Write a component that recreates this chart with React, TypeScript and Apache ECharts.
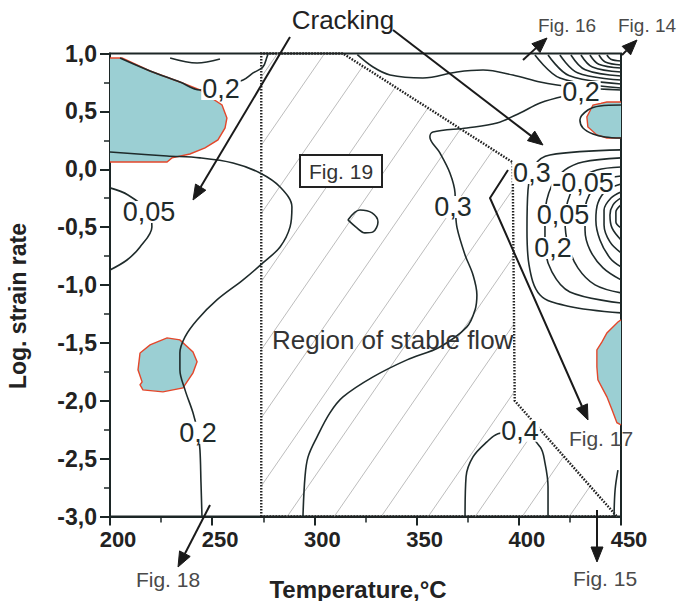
import React, { useEffect, useRef } from "react";
import * as echarts from "echarts";

// ---------- axes ----------
const xTickValues = [200, 250, 300, 350, 400, 450];
const yTickValues = [-3, -2.5, -2, -1.5, -1, -0.5, 0, 0.5, 1];

// ---------- region of stable flow (hatched, dotted border) ----------
const stableRegion = [
  [274, -3], [274, 1], [314, 1], [397, 0.06], [398, -2.0], [448, -3.0],
];

// ---------- cyan (instability) regions ----------
const cyanTopLeft = [
  [200, 0.961], [205.9, 0.961], [219.6, 0.849], [234.2, 0.754], [244.0, 0.685], [248.9, 0.624],
  [254.8, 0.555], [257.2, 0.443], [256.3, 0.357], [252.8, 0.253], [246.5, 0.184], [239.1, 0.132],
  [230.3, 0.098], [227.9, 0.063], [200, 0.063],
];
const cyanLeftBlob = [
  [214.7, -1.587], [219.6, -1.517], [227.9, -1.457], [234.2, -1.474], [240.6, -1.578], [242.6, -1.664],
  [240.6, -1.759], [235.7, -1.889], [225.9, -1.923], [216.1, -1.906], [214.7, -1.863], [215.7, -1.837],
  [213.7, -1.733], [214.7, -1.587],
];
const cyanRightTop = [
  [450, 0.27], [443.1, 0.27], [438.2, 0.296], [433.8, 0.365], [433.3, 0.452], [436.3, 0.555],
  [443.1, 0.581], [450, 0.581],
];
const cyanRightBottom = [
  [450, -1.302], [448.5, -1.319], [443.1, -1.414], [440.7, -1.492], [438.2, -1.561], [438.2, -1.708],
  [438.7, -1.82], [443.1, -1.966], [445.6, -2.078], [448.0, -2.19], [450, -2.208],
];
const cyanRegions = [cyanTopLeft, cyanLeftBlob, cyanRightTop, cyanRightBottom];

// ---------- contour lines ----------
const contourTopLeft = [
  [204.9, 0.961], [219.6, 0.849], [234.2, 0.754], [244.0, 0.685], [254.3, 0.72],
  [265.1, 0.771], [270.0, 0.832], [274.8, 0.883], [276.8, 0.97], [277.3, 0.996],
];
const contourTopArc = [[229.4, 0.961], [242.6, 0.918], [253.8, 0.953]];
const contourLeft02 = [
  [200, 0.149], [227.9, 0.115], [244.0, 0.098], [260.2, 0.054], [273.4, -0.032], [283.2, -0.153],
  [289.0, -0.326], [288.1, -0.498], [283.2, -0.671], [274.8, -0.809], [265.1, -0.956], [252.3, -1.129],
  [242.6, -1.302], [236.7, -1.448], [234.2, -1.587], [234.2, -1.733], [236.7, -1.906], [240.6, -2.104],
  [243.0, -2.277], [244.0, -2.423], [244.5, -2.7], [245.0, -3.0],
];
const contourLeft005 = [
  [200, -0.161], [208.8, -0.222], [219.1, -0.369], [220.5, -0.498], [214.7, -0.671], [208.3, -0.784], [200, -0.87],
];
const contourMid03 = [
  [422.6, 0.633], [410.4, 0.573], [400.6, 0.486], [389.3, 0.4], [374.6, 0.357], [358.0, 0.322],
  [356.5, 0.279], [361.4, 0.141], [366.3, -0.032], [368.8, -0.205], [369.0, -0.35], [369.8, -0.507],
  [373.7, -0.74], [377.6, -0.913], [379.5, -1.086], [378.6, -1.215], [374.6, -1.362], [361.4, -1.535],
  [345.3, -1.647], [328.7, -1.794], [314.0, -1.967], [307.6, -2.105], [301.3, -2.312], [296.9, -2.485],
  [295.4, -2.658], [294.4, -3.0],
];
const contourTop02 = [
  [321.0, 0.99], [328.7, 0.883], [337.0, 0.814], [353.1, 0.788], [369.8, 0.84], [382.5, 0.857],
  [397.1, 0.814], [410.4, 0.754], [418.7, 0.728], [431.4, 0.7], [439.7, 0.693], [450, 0.685],
];
const contourIsland = [
  [316.4, -0.438], [322.3, -0.352], [328.2, -0.377], [331.1, -0.455], [328.7, -0.541], [324.7, -0.55],
  [320.8, -0.507], [316.4, -0.438],
];
const contourBottom04 = [
  [373.7, -3.0], [374.2, -2.657], [377.6, -2.485], [384.4, -2.355], [389.8, -2.286], [400.6, -2.26],
  [410.4, -2.398], [412.8, -2.537], [414.3, -2.744], [414.3, -3.0],
];
const contourBottomRight = [[448.5, -2.6], [447.1, -2.773], [446.6, -3.0]];
const contourAroundCyan = [
  [450, 0.555], [439.7, 0.547], [433.8, 0.512], [429.9, 0.426], [431.4, 0.357], [436.3, 0.305],
  [442.2, 0.279], [450, 0.27],
];
// nested curves on the right edge
const nestedC1 = [[450, 0.167], [415.2, 0.123], [407.9, 0.037], [404.5, -0.179], [404.0, -0.525], [405.0, -0.826], [410.4, -1.086], [423.6, -1.181], [450, -1.241]];
const nestedC2 = [[450, 0.098], [431.4, 0.063], [422.6, -0.006], [416.2, -0.136], [412.8, -0.395], [412.8, -0.654], [416.2, -0.887], [425.0, -1.06], [450, -1.155]];
const nestedC3 = [[450, 0.02], [438.2, -0.006], [430.9, -0.075], [425.0, -0.222], [422.6, -0.438], [424.1, -0.654], [428.9, -0.852], [437.3, -0.999], [450, -1.068]];
const nestedC4 = [[450, -0.058], [441.2, -0.092], [435.8, -0.179], [432.4, -0.352], [432.4, -0.525], [434.8, -0.697], [441.2, -0.852], [450, -0.956]];
const nestedC5 = [[450, -0.127], [443.1, -0.179], [438.7, -0.291], [437.7, -0.438], [439.7, -0.611], [444.6, -0.766], [450, -0.844]];
const nestedC6 = [[450, -0.196], [445.1, -0.248], [441.7, -0.352], [441.7, -0.481], [444.6, -0.628], [450, -0.723]];
const nestedC7 = [[450, -0.248], [446.1, -0.308], [444.6, -0.395], [445.6, -0.507], [450, -0.611]];
const nestedC8 = [[450, -0.308], [447.5, -0.369], [447.5, -0.455], [450, -0.507]];
// fan of curves in the top-right corner
const fanA1 = [[407.9, 0.987], [420.1, 0.788], [450, 0.702]];
const fanA2 = [[414.3, 0.987], [424.5, 0.81], [450, 0.737]];
const fanA3 = [[420.1, 0.987], [428.7, 0.834], [450, 0.771]];
const fanA4 = [[425.5, 0.987], [432.5, 0.859], [450, 0.806]];
const fanA5 = [[430.4, 0.987], [436.0, 0.883], [450, 0.84]];
const fanA6 = [[434.8, 0.987], [439.1, 0.908], [450, 0.875]];
const fanA7 = [[439.2, 0.987], [442.3, 0.927], [450, 0.901]];
const fanA8 = [[443.1, 0.987], [445.0, 0.951], [450, 0.935]];

const contourLines = [
  contourTopLeft, contourTopArc, contourLeft02, contourLeft005, contourMid03, contourTop02,
  contourIsland, contourBottom04, contourBottomRight, contourAroundCyan,
  nestedC1, nestedC2, nestedC3, nestedC4, nestedC5, nestedC6, nestedC7, nestedC8,
  fanA1, fanA2, fanA3, fanA4, fanA5, fanA6, fanA7, fanA8,
];

// ---------- contour labels ----------
const contourLabelText = ["0,2", "0,05", "0,2", "0,3", "0,2", "0,3", "-0,05", "0,05", "0,2", "0,4"];
const contourLabelPos = [
  [254.3, 0.693], [219.1, -0.369], [243.0, -2.277], [367.8, -0.326], [430.4, 0.668],
  [406.4, -0.032], [431.4, -0.118], [421.6, -0.395], [416.7, -0.68], [400.6, -2.26],
];

const FONT = '"Liberation Sans", Arial, sans-serif';
const AX = "#1c2626";
const LINE = "#1f2b2b";
const CYAN = "#9bcfd3";
const RED = "#e4472b";
const GREY_TXT = "#4a4a4a";

function arrow(pts: number[][], color = "#1a1a1a") {
  const n = pts.length;
  const [x2, y2] = pts[n - 1];
  const [x1, y1] = pts[n - 2];
  const len = Math.hypot(x2 - x1, y2 - y1);
  const ux = (x2 - x1) / len, uy = (y2 - y1) / len;
  const hl = 15, hw = 6;
  const bx = x2 - ux * hl, by = y2 - uy * hl;
  const linePts = pts.slice(0, n - 1).concat([[bx, by]]);
  return [
    { type: "polyline", z: 100, shape: { points: linePts }, style: { stroke: color, lineWidth: 2, fill: null } },
    {
      type: "polygon", z: 100,
      shape: { points: [[x2, y2], [bx - uy * hw, by + ux * hw], [bx + uy * hw, by - ux * hw]] },
      style: { fill: color, stroke: color, lineWidth: 1 },
    },
  ];
}

function txt(text: string, x: number, y: number, size: number, fill: string, opts: any = {}) {
  const align = opts.align || "center";
  return {
    type: "text", z: 101, x, y, rotation: opts.rotation || 0,
    style: {
      text, fill, font: `${opts.bold ? "bold " : ""}${size}px ${FONT}`,
      align, verticalAlign: "middle", textAlign: align, textVerticalAlign: "middle",
    },
  };
}

export default function App() {
  const ref = useRef<HTMLDivElement>(null);
  useEffect(() => {
    if (!ref.current) return;
    const chart = echarts.init(ref.current, null, { renderer: "svg" });

    const hatchSeries = {
      type: "custom",
      coordinateSystem: "cartesian2d",
      silent: true,
      z: 1,
      data: [stableRegion[0]],
      renderItem: (_p: any, api: any) => {
        const pts = stableRegion.map((p) => api.coord(p));
        const k = 1.45;
        const step = 47 * k;
        let bmin = Infinity, bmax = -Infinity;
        pts.forEach((p: number[]) => {
          const b = p[1] + k * p[0];
          bmin = Math.min(bmin, b);
          bmax = Math.max(bmax, b);
        });
        const anchor = pts[0][1] + k * (pts[0][0] + 73);
        const children: any[] = [];
        for (let b = anchor - step * Math.ceil((anchor - bmin) / step); b <= bmax; b += step) {
          const xs: number[][] = [];
          for (let i = 0; i < pts.length; i++) {
            const p1 = pts[i], p2 = pts[(i + 1) % pts.length];
            const f1 = p1[1] + k * p1[0] - b, f2 = p2[1] + k * p2[0] - b;
            if ((f1 < 0) !== (f2 < 0)) {
              const t = f1 / (f1 - f2);
              xs.push([p1[0] + t * (p2[0] - p1[0]), p1[1] + t * (p2[1] - p1[1])]);
            }
          }
          xs.sort((a, c) => a[0] - c[0]);
          for (let j = 0; j + 1 < xs.length; j += 2) {
            children.push({
              type: "line",
              shape: { x1: xs[j][0], y1: xs[j][1], x2: xs[j + 1][0], y2: xs[j + 1][1] },
              style: { stroke: "#bdbdbd", lineWidth: 1 },
            });
          }
        }
        children.push({
          type: "polygon",
          shape: { points: pts },
          style: { fill: null, stroke: "#222", lineWidth: 2.4, lineDash: [1.6, 1.4] },
        });
        return { type: "group", children };
      },
    };

    const cyanSeries = {
      type: "custom",
      coordinateSystem: "cartesian2d",
      silent: true,
      z: 2,
      data: cyanRegions.map((r, i) => [r[0][0], r[0][1], i]),
      renderItem: (_p: any, api: any) => {
        const idx = api.value(2);
        const region = cyanRegions[idx];
        const pts = region.map((p) => api.coord(p));
        return {
          type: "group",
          children: [
            { type: "polygon", shape: { points: pts }, style: { fill: CYAN, stroke: null } },
            { type: "polyline", shape: { points: pts }, style: { stroke: RED, lineWidth: 1.4, fill: null } },
          ],
        };
      },
    };

    const lineSeries = contourLines.map((pts) => ({
      type: "line",
      data: pts,
      showSymbol: false,
      symbol: "none",
      smooth: 0.35,
      silent: true,
      z: 3,
      lineStyle: { color: LINE, width: 1.6 },
    }));

    const labelSeries = {
      type: "custom",
      coordinateSystem: "cartesian2d",
      silent: true,
      z: 5,
      data: contourLabelPos.map((p, i) => [p[0], p[1], i]),
      renderItem: (params: any, api: any) => {
        const [x, y] = api.coord([api.value(0), api.value(1)]);
        return {
          type: "text",
          x, y,
          style: {
            text: contourLabelText[params.dataIndex],
            font: `27px ${FONT}`,
            fill: LINE,
            align: "center", verticalAlign: "middle",
            textAlign: "center", textVerticalAlign: "middle",
            backgroundColor: "#ffffff",
            lineHeight: 22,
            padding: [0, 1],
          },
        };
      },
    };

    const graphics: any[] = [
      ...arrow([[290, 37], [193, 200]]),
      ...arrow([[393, 30], [543, 145]]),
      ...arrow([[523, 60], [547, 38]]),
      ...arrow([[622, 55], [637, 40]]),
      ...arrow([[508, 170], [490, 198], [588, 420]]),
      ...arrow([[597, 510], [597, 562]]),
      ...arrow([[210, 505], [178, 567]]),
      txt("Cracking", 343, 20, 26, "#222"),
      txt("Fig. 16", 567, 25, 19, GREY_TXT),
      txt("Fig. 14", 618, 25, 19, GREY_TXT, { align: "left" }),
      txt("Fig. 17", 601, 438, 21, GREY_TXT),
      txt("Fig. 15", 605, 578, 21, GREY_TXT),
      txt("Fig. 18", 168, 579, 21, GREY_TXT),
      {
        type: "rect", z: 100,
        shape: { x: 300, y: 155, width: 82, height: 32 },
        style: { fill: "#fff", stroke: "#222", lineWidth: 2 },
      },
      txt("Fig. 19", 341, 171, 21, "#333"),
      txt("Region of stable flow", 272, 340, 26, "#333", { align: "left" }),
      txt("Temperature,°C", 358, 589, 24, "#222", { bold: true }),
      txt("Log. strain rate", 18, 306, 23, "#222", { bold: true, rotation: Math.PI / 2 }),
    ];

    chart.setOption({
      animation: false,
      backgroundColor: "#ffffff",
      grid: {
        left: 110, right: 67, top: 53.5, bottom: 84.5,
        show: true, borderColor: AX, borderWidth: 2, backgroundColor: "transparent",
      },
      xAxis: {
        type: "value",
        min: xTickValues[0],
        max: xTickValues[xTickValues.length - 1],
        interval: xTickValues[1] - xTickValues[0],
        axisLine: { show: true, onZero: false, lineStyle: { color: AX, width: 2 } },
        axisTick: { show: true, inside: false, length: 9, lineStyle: { color: AX, width: 2 } },
        minorTick: { show: true, splitNumber: 2, length: 6, lineStyle: { color: AX, width: 1.5 } },
        splitLine: { show: false },
        axisLabel: {
          color: "#222", fontSize: 22, fontWeight: "bold", fontFamily: FONT, margin: 12,
          padding: [0, 0, 0, 16],
          formatter: (v: number) => String(v),
        },
      },
      yAxis: {
        type: "value",
        min: yTickValues[0],
        max: yTickValues[yTickValues.length - 1],
        interval: yTickValues[1] - yTickValues[0],
        axisLine: { show: true, onZero: false, lineStyle: { color: AX, width: 2 } },
        axisTick: { show: true, inside: false, length: 10, lineStyle: { color: AX, width: 2 } },
        minorTick: { show: true, splitNumber: 2, length: 6, lineStyle: { color: AX, width: 1.5 } },
        splitLine: { show: false },
        axisLabel: {
          color: "#222", fontSize: 23, fontWeight: "bold", fontFamily: FONT, margin: 13,
          formatter: (v: number) => v.toFixed(1).replace(".", ","),
        },
      },
      series: [hatchSeries, cyanSeries, ...lineSeries, labelSeries],
      graphic: graphics,
    });

    return () => chart.dispose();
  }, []);

  return (
    <div
      ref={ref}
      style={{ position: "fixed", left: 0, top: 0, width: 688, height: 601, background: "#fff" }}
    />
  );
}
